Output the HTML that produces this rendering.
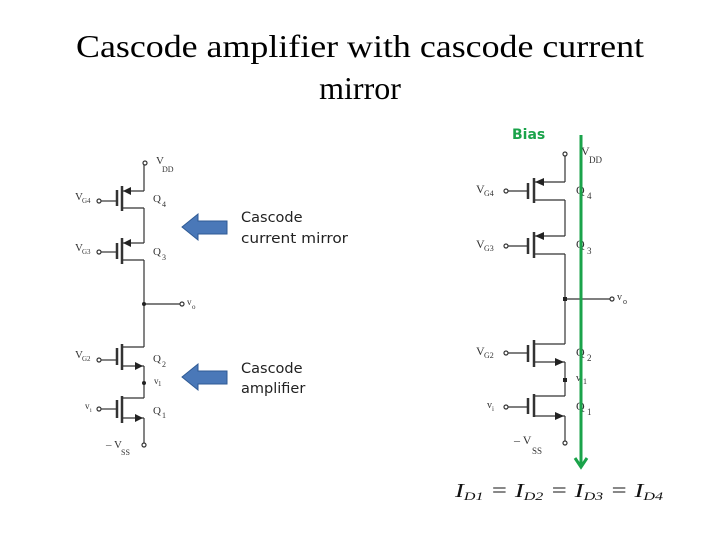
<!DOCTYPE html>
<html><head><meta charset="utf-8"><style>
html,body{margin:0;padding:0;background:#fff;}
svg{display:block}
.t{font-family:"Liberation Serif",serif;}
.s{font-family:"DejaVu Sans","Liberation Sans",sans-serif;}
</style></head><body>
<svg width="720" height="540" viewBox="0 0 720 540" xmlns="http://www.w3.org/2000/svg">
<rect width="720" height="540" fill="#fff"/>
<text class="t" x="360" y="57" font-size="32" text-anchor="middle" textLength="568" lengthAdjust="spacingAndGlyphs">Cascode amplifier with cascode current</text>
<text class="t" x="360" y="99" font-size="32" text-anchor="middle">mirror</text>

<!-- LEFT CIRCUIT -->
<g stroke="#333" stroke-width="1.2" fill="none">
<circle cx="145" cy="163" r="2"/>
<line x1="144" y1="165" x2="144" y2="191"/>
<line x1="122" y1="186" x2="122" y2="211" stroke-width="2.5"/>
<line x1="117" y1="190" x2="117" y2="206" stroke-width="2.5"/>
<line x1="101" y1="201" x2="117" y2="201"/><circle cx="99" cy="201" r="2"/>
<line x1="122" y1="191" x2="144" y2="191"/>
<line x1="122" y1="208" x2="144" y2="208"/>
<line x1="144" y1="208" x2="144" y2="243"/>
<line x1="122" y1="238" x2="122" y2="264" stroke-width="2.5"/>
<line x1="117" y1="243" x2="117" y2="259" stroke-width="2.5"/>
<line x1="101" y1="252" x2="117" y2="252"/><circle cx="99" cy="252" r="2"/>
<line x1="122" y1="243" x2="144" y2="243"/>
<line x1="122" y1="260" x2="144" y2="260"/>
<line x1="144" y1="260" x2="144" y2="347"/>
<line x1="144" y1="304" x2="180" y2="304"/><circle cx="182" cy="304" r="2"/>
<line x1="122" y1="344" x2="122" y2="370" stroke-width="2.5"/>
<line x1="117" y1="348" x2="117" y2="365" stroke-width="2.5"/>
<line x1="101" y1="360" x2="117" y2="360"/><circle cx="99" cy="360" r="2"/>
<line x1="122" y1="347" x2="144" y2="347"/>
<line x1="122" y1="366" x2="144" y2="366"/>
<line x1="144" y1="366" x2="144" y2="398"/>
<line x1="122" y1="396" x2="122" y2="423" stroke-width="2.5"/>
<line x1="117" y1="400" x2="117" y2="418" stroke-width="2.5"/>
<line x1="101" y1="409" x2="117" y2="409"/><circle cx="99" cy="409" r="2"/>
<line x1="122" y1="398" x2="144" y2="398"/>
<line x1="122" y1="418" x2="144" y2="418"/>
<line x1="144" y1="418" x2="144" y2="443"/><circle cx="144" cy="445" r="2"/>
</g>
<g fill="#222">
<polygon points="123,191 131,187 131,195"/>
<polygon points="123,243 131,239 131,247"/>
<polygon points="143,366 135,362 135,370"/>
<polygon points="143,418 135,414 135,422"/>
<circle cx="144" cy="304" r="2"/><circle cx="144" cy="383" r="2"/>
</g>
<g class="t" font-size="11" fill="#333">
<text x="156" y="164">V</text><text x="162" y="172" font-size="8">DD</text>
<text x="75" y="200">V</text><text x="82" y="203" font-size="7">G4</text>
<text x="75" y="251">V</text><text x="82" y="254" font-size="7">G3</text>
<text x="75" y="358">V</text><text x="82" y="361" font-size="7">G2</text>
<text x="85" y="409" font-size="9">v</text><text x="90" y="412" font-size="6">i</text>
<text x="153" y="202">Q</text><text x="162" y="207" font-size="8">4</text>
<text x="153" y="255">Q</text><text x="162" y="260" font-size="8">3</text>
<text x="153" y="362">Q</text><text x="162" y="367" font-size="8">2</text>
<text x="153" y="414">Q</text><text x="162" y="418" font-size="8">1</text>
<text x="187" y="305" font-size="9">v</text><text x="192" y="309" font-size="7">o</text>
<text x="154" y="384" font-size="9">v</text><text x="158" y="386" font-size="7">1</text>
<text x="106" y="448">– V</text><text x="121" y="455" font-size="8">SS</text>
</g>
<g fill="#4a78b8" stroke="#2f5a94" stroke-width="1">
<polygon points="182,227 198,214 198,221 227,221 227,234 198,234 198,240"/>
<polygon points="182,377 198,364 198,371 227,371 227,384 198,384 198,390"/>
</g>
<g class="s" font-size="14.5" fill="#222">
<text x="241" y="222">Cascode</text>
<text x="241" y="243" textLength="107" lengthAdjust="spacingAndGlyphs">current mirror</text>
<text x="241" y="373">Cascode</text>
<text x="241" y="393">amplifier</text>
</g>

<!-- RIGHT CIRCUIT -->
<g stroke="#333" stroke-width="1.2" fill="none">
<circle cx="565" cy="154" r="2"/>
<line x1="565" y1="156" x2="565" y2="182"/>
<line x1="534" y1="178" x2="534" y2="203" stroke-width="2.5"/>
<line x1="528" y1="183" x2="528" y2="199" stroke-width="2.5"/>
<line x1="508" y1="191" x2="528" y2="191"/><circle cx="506" cy="191" r="2"/>
<line x1="534" y1="182" x2="565" y2="182"/>
<line x1="534" y1="200" x2="565" y2="200"/>
<line x1="565" y1="200" x2="565" y2="236"/>
<line x1="534" y1="232" x2="534" y2="258" stroke-width="2.5"/>
<line x1="528" y1="238" x2="528" y2="254" stroke-width="2.5"/>
<line x1="508" y1="246" x2="528" y2="246"/><circle cx="506" cy="246" r="2"/>
<line x1="534" y1="236" x2="565" y2="236"/>
<line x1="534" y1="254" x2="565" y2="254"/>
<line x1="565" y1="254" x2="565" y2="344"/>
<line x1="565" y1="299" x2="610" y2="299"/><circle cx="612" cy="299" r="2"/>
<line x1="534" y1="340" x2="534" y2="367" stroke-width="2.5"/>
<line x1="528" y1="345" x2="528" y2="362" stroke-width="2.5"/>
<line x1="508" y1="353" x2="528" y2="353"/><circle cx="506" cy="353" r="2"/>
<line x1="534" y1="344" x2="565" y2="344"/>
<line x1="534" y1="362" x2="565" y2="362"/>
<line x1="565" y1="362" x2="565" y2="396"/>
<line x1="534" y1="394" x2="534" y2="417" stroke-width="2.5"/>
<line x1="528" y1="398" x2="528" y2="414" stroke-width="2.5"/>
<line x1="508" y1="407" x2="528" y2="407"/><circle cx="506" cy="407" r="2"/>
<line x1="534" y1="396" x2="565" y2="396"/>
<line x1="534" y1="416" x2="565" y2="416"/>
<line x1="565" y1="416" x2="565" y2="441"/><circle cx="565" cy="443" r="2"/>
</g>
<g fill="#222">
<polygon points="535,182 544,178 544,186"/>
<polygon points="535,236 544,232 544,240"/>
<polygon points="564,362 555,358 555,366"/>
<polygon points="564,416 555,412 555,420"/>
<rect x="563" y="297" width="4" height="4"/><rect x="563" y="378" width="4" height="4"/>
</g>
<g class="t" font-size="12" fill="#333">
<text x="581" y="155">V</text><text x="589" y="163" font-size="9">DD</text>
<text x="476" y="193">V</text><text x="484" y="196" font-size="8">G4</text>
<text x="476" y="248">V</text><text x="484" y="251" font-size="8">G3</text>
<text x="476" y="355">V</text><text x="484" y="358" font-size="8">G2</text>
<text x="487" y="408" font-size="10">v</text><text x="492" y="411" font-size="7">i</text>
<text x="576" y="194">Q</text><text x="587" y="199" font-size="9">4</text>
<text x="576" y="248">Q</text><text x="587" y="254" font-size="9">3</text>
<text x="576" y="356">Q</text><text x="587" y="361" font-size="9">2</text>
<text x="576" y="410">Q</text><text x="587" y="415" font-size="9">1</text>
<text x="617" y="300" font-size="10">v</text><text x="623" y="304" font-size="8">o</text>
<text x="576" y="381" font-size="10">v</text><text x="583" y="384" font-size="8">1</text>
<text x="514" y="444">– V</text><text x="532" y="454" font-size="9">SS</text>
</g>
<g stroke="#1aa34a" stroke-width="3" fill="none">
<line x1="581" y1="135" x2="581" y2="466"/>
<polyline points="575,458 581,467 587,458"/>
</g>
<text class="s" x="512" y="139" font-size="14" font-weight="bold" fill="#1aa34a">Bias</text>
<text class="t" x="455" y="497" font-size="20" font-style="italic" fill="#111" textLength="208" lengthAdjust="spacingAndGlyphs">I<tspan font-size="12" dy="3">D1</tspan><tspan dy="-3"> = I</tspan><tspan font-size="12" dy="3">D2</tspan><tspan dy="-3"> = I</tspan><tspan font-size="12" dy="3">D3</tspan><tspan dy="-3"> = I</tspan><tspan font-size="12" dy="3">D4</tspan></text>
</svg>
</body></html>
